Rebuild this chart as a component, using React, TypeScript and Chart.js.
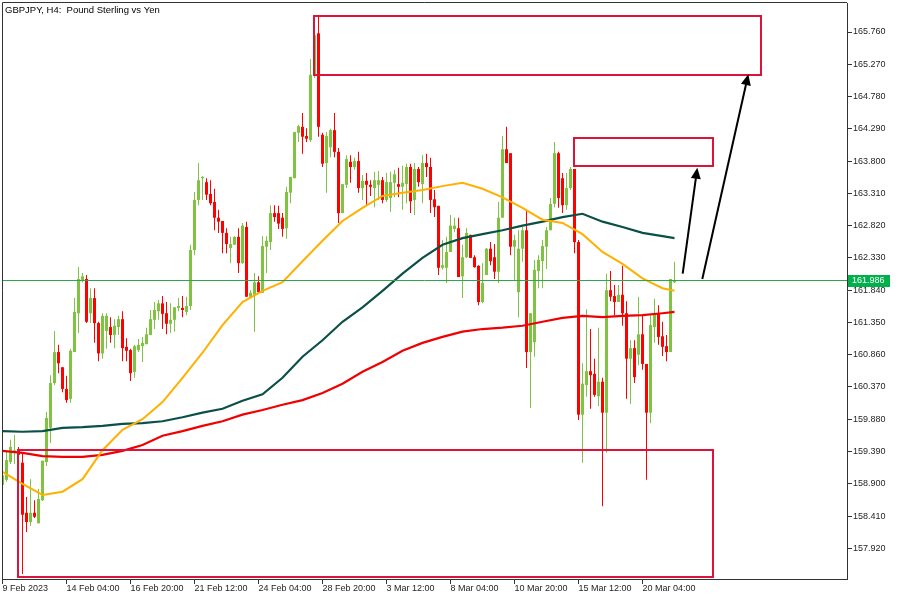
import React, { useEffect, useRef } from 'react';
import { Chart, registerables } from 'chart.js';

Chart.register(...registerables);

// ---- Data (GBPJPY H4) ----
const OPEN = [
  158.88, 158.96, 159.23, 159.37, 159.41, 159.22, 158.46, 158.32, 158.46, 158.30,
  158.65, 159.23, 159.75, 160.43, 160.90, 160.67, 160.34, 160.19, 160.90, 161.49,
  161.99, 162.01, 161.49, 161.72, 161.34, 160.88, 161.22, 161.28, 161.16, 161.28,
  161.40, 160.98, 160.93, 160.60, 160.93, 160.99, 161.02, 161.16, 161.39, 161.52,
  161.64, 161.49, 161.33, 161.39, 161.57, 161.57, 161.51, 161.60, 162.45, 163.21,
  163.54, 163.48, 163.30, 163.18, 162.94, 162.89, 162.71, 162.48, 162.53, 162.65,
  162.25, 162.80, 161.74, 161.77, 161.96, 161.80, 162.50, 162.57, 163.01, 163.01,
  162.94, 162.78, 163.32, 163.54, 164.23, 164.32, 164.18, 164.12, 165.11, 165.74,
  164.20, 163.77, 164.01, 164.27, 163.94, 163.01, 163.44, 163.79, 163.71, 163.80,
  163.39, 163.50, 163.44, 163.39, 163.44, 163.51, 163.21, 163.24, 163.47, 163.45,
  163.41, 163.45, 163.71, 163.21, 163.68, 163.45, 163.77, 163.71, 163.22, 163.12,
  162.18, 162.18, 162.42, 162.77, 162.78, 162.05, 162.34, 162.68, 162.34, 162.21,
  161.66, 162.07, 162.47, 162.34, 162.12, 162.94, 163.98, 163.92, 162.50, 161.81,
  162.47, 162.75, 160.90, 161.05, 162.13, 162.28, 162.50, 162.75, 163.15, 163.92,
  163.54, 163.13, 163.39, 163.68, 162.57, 159.95, 160.40, 160.61, 160.57, 160.23,
  160.45, 159.98, 161.84, 161.75, 161.66, 161.77, 161.49, 160.80, 160.96, 160.86,
  161.17, 160.72, 159.98, 161.28, 161.48, 161.14, 160.99, 160.90, 161.96,
];
const HIGH = [
  159.11, 159.41, 159.57, 159.64, 159.46, 159.37, 158.70, 158.97, 158.65, 158.82,
  159.25, 159.99, 160.55, 161.22, 161.01, 160.67, 160.54, 160.95, 161.72, 162.19,
  162.10, 162.07, 161.87, 161.87, 161.36, 161.49, 161.49, 161.43, 161.40, 161.45,
  161.52, 161.11, 160.95, 161.01, 161.10, 161.13, 161.27, 161.54, 161.66, 161.69,
  161.75, 161.66, 161.64, 161.58, 161.72, 161.75, 161.74, 162.53, 163.33, 163.77,
  163.57, 163.54, 163.51, 163.38, 163.06, 162.89, 162.78, 162.65, 162.66, 162.78,
  162.86, 162.88, 161.84, 162.10, 162.05, 162.66, 162.66, 163.13, 163.13, 163.12,
  163.01, 163.41, 163.56, 164.24, 164.35, 164.53, 164.30, 165.35, 165.82, 166.02,
  164.23, 164.24, 164.29, 164.53, 164.00, 163.45, 163.89, 163.89, 163.85, 163.94,
  163.59, 163.62, 163.51, 163.64, 163.65, 163.56, 163.62, 163.64, 163.67, 163.70,
  163.73, 163.76, 163.76, 163.77, 163.71, 163.89, 163.91, 163.85, 163.36, 163.12,
  162.60, 162.65, 162.98, 162.94, 162.94, 162.53, 162.78, 162.68, 162.37, 162.22,
  162.25, 162.48, 162.57, 162.54, 163.18, 164.18, 164.32, 163.92, 162.68, 162.75,
  162.80, 163.06, 161.49, 162.30, 162.37, 162.60, 162.80, 163.24, 164.09, 163.94,
  163.62, 163.62, 163.71, 163.68, 162.60, 160.73, 161.55, 161.25, 160.80, 161.27,
  160.51, 162.09, 162.13, 161.92, 161.92, 162.21, 161.67, 161.08, 161.08, 161.74,
  161.46, 160.72, 161.46, 161.71, 161.61, 161.36, 161.16, 162.01, 162.27,
];
const LOW = [
  158.85, 158.93, 159.20, 159.20, 159.29, 157.53, 158.17, 158.26, 158.38, 158.30,
  158.64, 159.17, 159.52, 160.40, 160.58, 160.29, 160.13, 160.13, 160.90, 161.19,
  161.96, 161.34, 161.34, 161.04, 160.76, 160.80, 160.95, 161.04, 160.96, 161.16,
  160.76, 160.76, 160.46, 160.51, 160.90, 160.75, 161.02, 161.16, 161.25, 161.39,
  161.25, 161.17, 161.19, 161.21, 161.52, 161.43, 161.46, 161.54, 162.37, 163.13,
  163.21, 163.21, 163.13, 162.75, 162.71, 162.40, 162.40, 162.25, 162.53, 162.10,
  162.24, 161.74, 161.74, 161.21, 161.80, 161.80, 162.10, 162.45, 162.88, 162.77,
  162.65, 162.62, 163.16, 163.54, 164.09, 163.91, 164.09, 164.09, 165.06, 164.17,
  163.71, 163.32, 163.86, 163.86, 162.86, 163.01, 163.39, 163.47, 163.67, 163.32,
  163.21, 163.13, 163.27, 163.10, 163.21, 163.16, 163.18, 163.03, 163.25, 163.25,
  163.06, 163.16, 163.01, 162.98, 163.41, 163.16, 163.56, 163.01, 162.95, 162.07,
  162.15, 161.95, 162.42, 162.72, 162.04, 161.72, 162.33, 162.33, 162.18, 161.61,
  161.64, 162.07, 162.22, 162.01, 161.95, 162.94, 163.77, 162.37, 161.99, 161.43,
  162.27, 160.66, 160.05, 160.83, 161.87, 161.87, 162.16, 162.75, 163.10, 163.09,
  163.01, 163.06, 163.36, 162.40, 159.87, 159.22, 160.22, 160.04, 160.22, 160.08,
  158.56, 159.37, 161.67, 161.46, 161.66, 161.30, 160.19, 160.11, 160.43, 160.70,
  160.63, 158.96, 159.82, 161.04, 161.01, 160.84, 160.76, 160.90, 161.95,
];
const CLOSE = [
  159.03, 159.26, 159.46, 159.41, 159.34, 158.43, 158.32, 158.46, 158.40, 158.67,
  159.25, 159.90, 160.43, 160.90, 160.73, 160.34, 160.17, 160.92, 161.51, 162.01,
  162.05, 161.36, 161.72, 161.34, 160.88, 161.45, 161.45, 161.16, 161.30, 161.40,
  160.96, 160.92, 160.58, 160.99, 161.01, 161.04, 161.17, 161.40, 161.54, 161.64,
  161.48, 161.33, 161.39, 161.58, 161.60, 161.54, 161.60, 162.45, 163.21, 163.51,
  163.56, 163.29, 163.16, 162.94, 162.88, 162.71, 162.54, 162.54, 162.65, 162.25,
  162.82, 161.74, 161.80, 161.96, 161.81, 162.51, 162.59, 163.01, 162.95, 162.85,
  162.77, 163.33, 163.56, 164.24, 164.33, 164.17, 164.14, 165.11, 165.71, 164.32,
  163.76, 164.18, 164.27, 163.94, 163.01, 163.45, 163.83, 163.71, 163.80, 163.39,
  163.50, 163.44, 163.41, 163.51, 163.51, 163.21, 163.48, 163.48, 163.60, 163.41,
  163.47, 163.71, 163.19, 163.68, 163.48, 163.77, 163.71, 163.21, 163.10, 162.18,
  162.22, 162.42, 162.82, 162.82, 162.04, 162.34, 162.71, 162.33, 162.19, 161.66,
  161.95, 162.47, 162.28, 162.12, 162.94, 163.98, 163.77, 162.50, 162.60, 162.47,
  162.75, 160.90, 161.49, 162.15, 162.30, 162.51, 162.75, 163.15, 163.92, 163.24,
  163.13, 163.39, 163.68, 162.57, 159.95, 160.42, 160.61, 160.55, 160.25, 160.45,
  159.98, 161.84, 161.74, 161.66, 161.77, 161.49, 160.80, 160.96, 160.52, 161.17,
  160.72, 159.98, 161.31, 161.49, 161.13, 160.98, 160.90, 162.01, 161.986,
];

// moving averages, sampled at bar indices
const MA_INDEX = [0, 5, 10, 15, 20, 25, 30, 35, 40, 45, 50, 55, 60, 65, 70, 75, 80, 85, 90, 95, 100, 105, 110, 115, 120, 125, 130, 135, 140, 145, 150, 155, 160, 165, 168];
const MA_FAST = [159.08, 158.90, 158.73, 158.78, 158.97, 159.41, 159.72, 159.88, 160.14, 160.51, 160.89, 161.31, 161.66, 161.83, 161.96, 162.28, 162.59, 162.89, 163.09, 163.27, 163.32, 163.36, 163.42, 163.47, 163.38, 163.25, 163.09, 162.91, 162.86, 162.69, 162.42, 162.24, 162.02, 161.87, 161.83];
const MA_MID = [159.70, 159.69, 159.70, 159.75, 159.76, 159.78, 159.81, 159.82, 159.85, 159.91, 159.98, 160.04, 160.16, 160.26, 160.51, 160.83, 161.08, 161.36, 161.58, 161.83, 162.09, 162.33, 162.53, 162.63, 162.69, 162.75, 162.82, 162.88, 162.95, 163.00, 162.88, 162.80, 162.71, 162.66, 162.63];
const MA_SLOW = [159.40, 159.37, 159.32, 159.31, 159.31, 159.34, 159.40, 159.49, 159.63, 159.70, 159.78, 159.85, 159.95, 160.02, 160.10, 160.17, 160.28, 160.42, 160.60, 160.75, 160.92, 161.04, 161.13, 161.21, 161.25, 161.27, 161.30, 161.36, 161.42, 161.45, 161.43, 161.45, 161.46, 161.49, 161.51];

const X_TICK_INDEX = [0, 16, 32, 48, 64, 80, 96, 112, 128, 144, 160];
const X_TICK_LABELS = ['9 Feb 2023', '14 Feb 04:00', '16 Feb 20:00', '21 Feb 12:00', '24 Feb 04:00', '28 Feb 20:00', '3 Mar 12:00', '8 Mar 04:00', '10 Mar 20:00', '15 Mar 12:00', '20 Mar 04:00'];
const Y_TICKS = [157.92, 158.41, 158.90, 159.39, 159.88, 160.37, 160.86, 161.35, 161.84, 162.33, 162.82, 163.31, 163.80, 164.29, 164.78, 165.27, 165.76];
const LAST_PRICE = 161.986;
const TITLE = 'GBPJPY, H4:  Pound Sterling vs Yen';

// drawn zones (bar index / price)
const ZONE_FROM = [77.95, 142.9, 3.8];
const ZONE_TO = [189.7, 177.7, 177.7];
const ZONE_TOP = [166.01, 164.155, 159.41];
const ZONE_BOTTOM = [165.11, 163.72, 157.49];
// arrows (bar index / price)
const ARROW_X0 = [170.05, 174.95];
const ARROW_Y0 = [162.09, 162.01];
const ARROW_X1 = [173.7, 186.45];
const ARROW_Y1 = [163.70, 165.12];

const X_MIN = -0.125;
const X_MAX = 211.125;
const Y_MIN = 157.4545;
const Y_MAX = 166.2004;

const BULL = '#80C342';
const BEAR = '#FF0000';
const FONT = '"Liberation Sans", Arial, sans-serif';

const overlay = {
  id: 'overlay',
  afterDatasetsDraw(chart: any) {
    const { ctx, chartArea: a, scales } = chart;
    const xs = scales.x;
    const ys = scales.y;
    ctx.save();
    ctx.beginPath();
    ctx.rect(a.left, a.top, a.right - a.left, a.bottom - a.top);
    ctx.clip();
    // last price line
    const py = Math.round(ys.getPixelForValue(LAST_PRICE)) - 0.5;
    ctx.strokeStyle = '#2AA84A';
    ctx.lineWidth = 1;
    ctx.beginPath();
    ctx.moveTo(a.left, py);
    ctx.lineTo(a.right, py);
    ctx.stroke();
    // zones
    ctx.strokeStyle = '#DC143C';
    ctx.lineWidth = 2;
    for (let k = 0; k < ZONE_FROM.length; k++) {
      const x0 = Math.round(xs.getPixelForValue(ZONE_FROM[k]));
      const x1 = Math.round(xs.getPixelForValue(ZONE_TO[k]));
      const y0 = Math.round(ys.getPixelForValue(ZONE_TOP[k]));
      const y1 = Math.round(ys.getPixelForValue(ZONE_BOTTOM[k]));
      ctx.strokeRect(x0, y0, x1 - x0, y1 - y0);
    }
    // arrows
    ctx.strokeStyle = '#000';
    ctx.fillStyle = '#000';
    for (let k = 0; k < ARROW_X0.length; k++) {
      const sx = xs.getPixelForValue(ARROW_X0[k]);
      const sy = ys.getPixelForValue(ARROW_Y0[k]);
      const tx = xs.getPixelForValue(ARROW_X1[k]);
      const ty = ys.getPixelForValue(ARROW_Y1[k]);
      const len = Math.hypot(tx - sx, ty - sy);
      const dx = (tx - sx) / len;
      const dy = (ty - sy) / len;
      const hl = 11;
      const hw = 5;
      const bx = tx - dx * hl;
      const by = ty - dy * hl;
      ctx.lineWidth = 2;
      ctx.beginPath();
      ctx.moveTo(sx, sy);
      ctx.lineTo(bx + dx, by + dy);
      ctx.stroke();
      ctx.beginPath();
      ctx.moveTo(tx, ty);
      ctx.lineTo(bx - dy * hw, by + dx * hw);
      ctx.lineTo(bx + dy * hw, by - dx * hw);
      ctx.closePath();
      ctx.fill();
    }
    ctx.restore();
  },
  afterDraw(chart: any) {
    const { ctx, chartArea: a, scales } = chart;
    const ys = scales.y;
    ctx.save();
    // frame
    ctx.strokeStyle = '#333';
    ctx.lineWidth = 1;
    ctx.beginPath();
    ctx.moveTo(2.5, a.bottom);
    ctx.lineTo(2.5, 2.5);
    ctx.lineTo(a.right, 2.5);
    ctx.stroke();
    // title
    ctx.fillStyle = '#000';
    ctx.font = '9.5px ' + FONT;
    ctx.textBaseline = 'alphabetic';
    ctx.textAlign = 'left';
    ctx.fillText(TITLE, 5, 13);
    // price label
    const py = Math.round(ys.getPixelForValue(LAST_PRICE)) - 0.5;
    ctx.fillStyle = '#00B04A';
    ctx.fillRect(848, Math.round(py - 6), 42, 12);
    ctx.fillStyle = '#fff';
    ctx.font = '9px ' + FONT;
    ctx.textBaseline = 'middle';
    ctx.fillText(LAST_PRICE.toFixed(3), 852, py + 0.5);
    ctx.restore();
  },
};

export default function App() {
  const ref = useRef<HTMLCanvasElement>(null);
  useEffect(() => {
    if (!ref.current) return;
    const idx = OPEN.map((_, i) => i);
    const colors = idx.map((i) => (CLOSE[i] >= OPEN[i] ? BULL : BEAR));
    const barCommon = {
      grouped: false,
      barPercentage: 1,
      categoryPercentage: 1,
      borderWidth: 0,
      inflateAmount: 0,
      backgroundColor: colors,
    };
    const chart = new Chart(ref.current, {
      type: 'bar',
      data: {
        datasets: [
          {
            type: 'line',
            label: 'MA fast',
            data: MA_INDEX.map((x, k) => ({ x, y: MA_FAST[k] })),
            borderColor: '#FFB000',
            borderWidth: 2,
            pointRadius: 0,
            tension: 0,
            order: 1,
          },
          {
            type: 'line',
            label: 'MA mid',
            data: MA_INDEX.map((x, k) => ({ x, y: MA_MID[k] })),
            borderColor: '#0B5046',
            borderWidth: 2.2,
            pointRadius: 0,
            tension: 0,
            order: 1,
          },
          {
            type: 'line',
            label: 'MA slow',
            data: MA_INDEX.map((x, k) => ({ x, y: MA_SLOW[k] })),
            borderColor: '#F00000',
            borderWidth: 2.2,
            pointRadius: 0,
            tension: 0,
            order: 1,
          },
          {
            type: 'bar',
            label: 'body',
            data: idx.map((i) => ({ x: i, y: [OPEN[i], CLOSE[i]] })),
            maxBarThickness: 3,
            minBarLength: 1,
            order: 2,
            ...barCommon,
          },
          {
            type: 'bar',
            label: 'wick',
            data: idx.map((i) => ({ x: i, y: [LOW[i], HIGH[i]] })),
            maxBarThickness: 1,
            order: 3,
            ...barCommon,
          },
        ] as any,
      },
      options: {
        responsive: false,
        animation: false,
        devicePixelRatio: 1,
        events: [],
        layout: { padding: { left: 2, top: 3, right: 0, bottom: 0 } },
        plugins: {
          legend: { display: false },
          tooltip: { enabled: false },
          title: { display: false },
        },
        scales: {
          x: {
            type: 'linear',
            min: X_MIN,
            max: X_MAX,
            offset: false,
            position: 'bottom',
            grid: { display: true, drawOnChartArea: false, drawTicks: true, tickLength: 5, color: '#333', offset: false },
            border: { display: true, color: '#333', width: 1 },
            ticks: {
              autoSkip: false,
              maxRotation: 0,
              minRotation: 0,
              align: 'start',
              padding: 0,
              color: '#1e1e1e',
              font: { family: FONT, size: 9, lineHeight: 1 },
              callback: (_v: any, i: number) => X_TICK_LABELS[i] ?? '',
            },
            afterBuildTicks: (s: any) => {
              s.ticks = X_TICK_INDEX.map((v) => ({ value: v }));
            },
            afterFit: (s: any) => {
              s.height = 21;
              s.paddingLeft = 0;
              s.paddingRight = 0;
            },
          },
          y: {
            type: 'linear',
            position: 'right',
            min: Y_MIN,
            max: Y_MAX,
            beginAtZero: false,
            grid: { display: true, drawOnChartArea: false, drawTicks: true, tickLength: 5, color: '#333' },
            border: { display: true, color: '#333', width: 1 },
            ticks: {
              autoSkip: false,
              padding: 1,
              color: '#1e1e1e',
              font: { family: FONT, size: 9, lineHeight: 1 },
              callback: (v: any) => Number(v).toFixed(3),
            },
            afterBuildTicks: (s: any) => {
              s.ticks = Y_TICKS.map((v) => ({ value: v }));
            },
            afterFit: (s: any) => {
              s.width = 53;
              s.paddingTop = 0;
              s.paddingBottom = 0;
            },
          },
        },
      } as any,
      plugins: [overlay],
    });
    return () => chart.destroy();
  }, []);

  return (
    <div style={{ position: 'absolute', left: 0, top: 0, width: 900, height: 600, background: '#fff' }}>
      <canvas ref={ref} width={900} height={600} style={{ display: 'block', width: 900, height: 600 }} />
    </div>
  );
}
